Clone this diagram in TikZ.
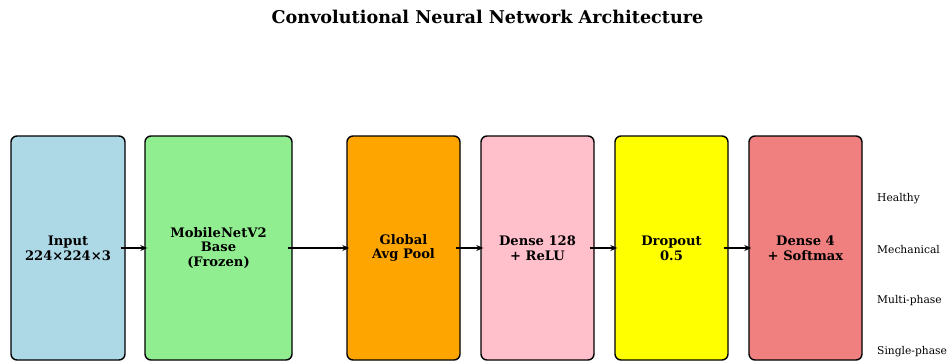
\documentclass[tikz,border=0pt]{standalone}
\usepackage{fontspec}
\setmainfont{DejaVu Serif}
\usetikzlibrary{arrows.meta}
\definecolor{cinput}{RGB}{173,216,230}
\definecolor{cbase}{RGB}{144,238,144}
\definecolor{cpool}{RGB}{255,165,0}
\definecolor{cdense}{RGB}{255,192,203}
\definecolor{cdrop}{RGB}{255,255,0}
\definecolor{cout}{RGB}{240,128,128}
\tikzset{
  layerbox/.style={draw=black, line width=1.4pt, rounded corners=6pt, minimum height=224pt, inner sep=0pt,
    font=\fontsize{13.1}{14.8}\selectfont\bfseries, align=center},
  flowarrow/.style={-{Stealth[length=7pt,width=6pt]}, line width=1.6pt, shorten <=-5pt, shorten >=-3pt},
  classlabel/.style={anchor=west, font=\fontsize{10.7}{12}\selectfont, inner sep=0pt}
}
\begin{document}
\begin{tikzpicture}[x=1pt,y=-1pt]
\useasboundingbox (0,0) rectangle (947,361);
\node[font=\fontsize{17.6}{20}\selectfont\bfseries] (title) at (487.5,16.5) {Convolutional Neural Network Architecture};
\node[layerbox, fill=cinput, minimum width=114pt] (in) at (68,248) {Input\\224×224×3};
\node[layerbox, fill=cbase, minimum width=147pt] (base) at (218.5,248) {MobileNetV2\\Base\\(Frozen)};
\node[layerbox, fill=cpool, minimum width=113pt] (pool) at (403.5,248) {Global\\Avg Pool};
\node[layerbox, fill=cdense, minimum width=113pt] (dense) at (537.5,248) {Dense 128\\+ ReLU};
\node[layerbox, fill=cdrop, minimum width=113pt] (drop) at (671.5,248) {Dropout\\0.5};
\node[layerbox, fill=cout, minimum width=113pt] (out) at (805.5,248) {Dense 4\\+ Softmax};
\draw[flowarrow] (in.east) -- (base.west);
\draw[flowarrow] (base.east) -- (pool.west);
\draw[flowarrow] (pool.east) -- (dense.west);
\draw[flowarrow] (dense.east) -- (drop.west);
\draw[flowarrow] (drop.east) -- (out.west);
\node[classlabel] (c1) at (877,198.5) {Healthy};
\node[classlabel] (c2) at (877,249.5) {Mechanical};
\node[classlabel] (c3) at (877,300.5) {Multi-phase};
\node[classlabel] (c4) at (877,351.5) {Single-phase};
\end{tikzpicture}
\end{document}
